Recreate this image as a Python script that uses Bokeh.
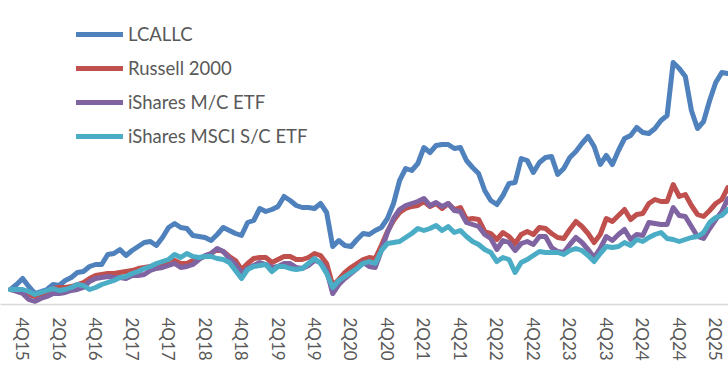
import math
from bokeh.plotting import figure
from bokeh.models import Range1d, FixedTicker, Legend, LegendItem
from bokeh.embed import file_html
from bokeh.resources import INLINE

# Quarter labels (every second quarter), placed at month positions
tick_labels = ["4Q15", "2Q16", "4Q16", "2Q17", "4Q17", "2Q18", "4Q18", "2Q19", "4Q19", "2Q20",
               "4Q20", "2Q21", "4Q21", "2Q22", "4Q22", "2Q23", "4Q23", "2Q24", "4Q24", "2Q25"]
tick_months = [2, 8, 14, 20, 26, 32, 38, 44, 50, 56, 62, 68, 74, 80, 86, 92, 98, 104, 110, 116]

series_names = ["LCALLC", "Russell 2000", "iShares M/C ETF", "iShares MSCI S/C ETF"]

lcallc = [100, 105, 111, 103, 96, 98, 100, 105, 104, 109, 112, 117, 118, 123, 125, 125, 135, 136, 140, 134,
          139, 143, 147, 148, 144, 152, 162, 166, 162, 161, 154, 153, 152, 149, 155, 162, 159, 156, 154, 167,
          169, 181, 178, 180, 183, 193, 189, 184, 182, 182, 181, 186, 177, 143, 149, 144, 143, 150, 156, 155,
          159, 162, 171, 186, 209, 221, 219, 226, 242, 237, 244, 245, 245, 241, 242, 229, 222, 216, 199, 189,
          185, 194, 206, 207, 231, 229, 217, 227, 232, 233, 215, 221, 232, 238, 246, 253, 243, 225, 234, 225,
          239, 251, 254, 262, 257, 256, 261, 269, 274, 327, 321, 313, 279, 261, 268, 289, 307, 317, 316]

russell2000 = [100, 99, 98, 95, 93, 94, 98, 101, 102, 102, 103, 105, 107, 111, 114, 115, 116, 116, 117, 118,
               119, 121, 122, 123, 124, 125, 128, 129, 126, 126, 129, 131, 133, 136, 140, 138, 133, 129, 120, 126,
               131, 132, 132, 127, 130, 133, 133, 130, 130, 132, 136, 134, 126, 104, 110, 117, 122, 126, 130, 132,
               131, 144, 158, 169, 177, 181, 183, 184, 188, 183, 186, 181, 186, 180, 182, 170, 171, 170, 158, 156,
               150, 157, 153, 146, 155, 158, 155, 162, 161, 156, 152, 151, 160, 168, 163, 156, 147, 155, 171, 168,
               174, 180, 170, 175, 176, 186, 190, 188, 188, 205, 193, 195, 184, 175, 173, 179, 186, 190, 202]

ishares_mc = [100, 98, 96, 90, 88, 91, 93, 96, 96, 97, 99, 100, 102, 108, 111, 112, 113, 112, 112, 111,
              114, 114, 115, 119, 121, 122, 124, 126, 122, 123, 125, 130, 134, 136, 141, 138, 131, 125, 116, 121,
              124, 127, 125, 122, 123, 126, 126, 122, 121, 124, 129, 127, 119, 96, 105, 111, 116, 121, 127, 123,
              122, 139, 157, 171, 180, 184, 186, 188, 191, 184, 187, 183, 186, 179, 178, 167, 165, 163, 155, 151,
              140, 149, 147, 139, 146, 148, 145, 153, 153, 142, 138, 137, 145, 152, 147, 140, 132, 141, 153, 149,
              155, 160, 150, 155, 154, 167, 166, 165, 165, 182, 174, 173, 163, 153, 151, 161, 170, 178, 191]

ishares_msci_sc = [100, 100, 100, 98, 95, 97, 99, 101, 99, 100, 102, 105, 104, 100, 102, 105, 107, 109, 112, 113,
                   116, 118, 121, 123, 126, 128, 130, 135, 132, 136, 133, 132, 133, 133, 131, 130, 127, 119, 111, 120,
                   123, 124, 125, 118, 123, 123, 121, 120, 121, 126, 131, 126, 116, 102, 109, 113, 117, 121, 126, 128,
                   126, 139, 146, 147, 148, 152, 156, 161, 159, 161, 164, 159, 163, 157, 159, 153, 148, 145, 140, 137,
                   128, 132, 130, 117, 127, 130, 134, 138, 137, 137, 137, 135, 139, 141, 139, 134, 128, 136, 143, 142,
                   143, 147, 144, 150, 148, 152, 155, 157, 151, 150, 148, 150, 152, 153, 157, 167, 172, 174, 180]

colors = ["#4F81BD", "#C0504D", "#8064A2", "#4BACC6"]
all_series = [lcallc, russell2000, ishares_mc, ishares_msci_sc]
months = list(range(len(lcallc)))

p = figure(width=728, height=366, output_backend="svg", toolbar_location=None,
           x_range=Range1d(-1.645, 118.1), y_range=Range1d(85, 389),
           y_axis_location=None, min_border_left=0, min_border_right=0,
           min_border_top=0, min_border_bottom=62)
p.outline_line_color = None
p.xgrid.visible = False
p.ygrid.visible = False
p.background_fill_color = "white"

renderers = []
for ys, c in zip(all_series, colors):
    r = p.line(months, ys, line_color=c, line_width=5, line_join="round", line_cap="round")
    renderers.append(r)

ax = p.xaxis[0]
ax.ticker = FixedTicker(ticks=tick_months)
ax.major_label_overrides = {m: lab for m, lab in zip(tick_months, tick_labels)}
ax.major_label_orientation = -math.pi / 2
ax.major_tick_in = 0
ax.major_tick_out = 0
ax.minor_tick_in = 0
ax.minor_tick_out = 0
ax.axis_line_color = "#D9D9D9"
ax.axis_line_width = 1.5
ax.major_label_standoff = 13
ax.major_label_text_font = "Lato"
ax.major_label_text_font_size = "17px"
ax.major_label_text_color = "#595959"

legend = Legend(items=[LegendItem(label=n, renderers=[r]) for n, r in zip(series_names, renderers)],
                location=(76, 152), orientation="vertical")
legend.glyph_width = 47
legend.glyph_height = 32
legend.label_height = 32
legend.spacing = 2
legend.padding = 0
legend.margin = 0
legend.label_standoff = 5
legend.label_text_font = "Lato"
legend.label_text_font_size = "18.5px"
legend.label_text_color = "#595959"
legend.border_line_color = None
legend.background_fill_alpha = 0
p.add_layout(legend, "center")

open("out.html", "w").write(file_html(p, INLINE))
